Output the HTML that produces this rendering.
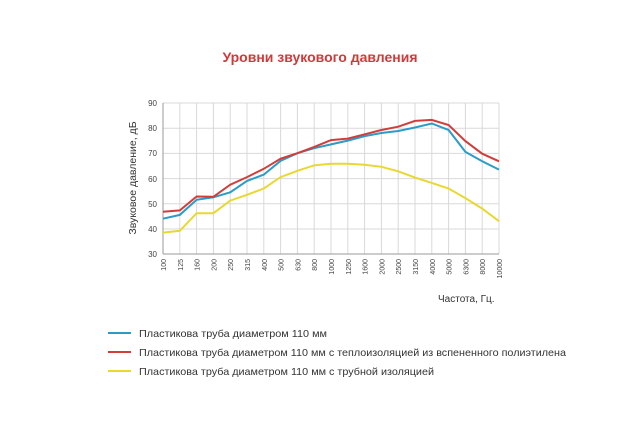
<!DOCTYPE html><html><head><meta charset="utf-8"><style>body{margin:0;background:#fff}svg{display:block}</style></head><body>
<svg width="640" height="427" xmlns="http://www.w3.org/2000/svg" font-family="Liberation Sans, sans-serif">
<text x="320" y="62" text-anchor="middle" font-size="14" font-weight="bold" fill="#d0393a">Уровни звукового давления</text>
<g stroke="#d9d9d9" stroke-width="1">
<line x1="163" y1="103" x2="499" y2="103"/><line x1="163" y1="128.2" x2="499" y2="128.2"/><line x1="163" y1="153.4" x2="499" y2="153.4"/><line x1="163" y1="178.6" x2="499" y2="178.6"/><line x1="163" y1="203.8" x2="499" y2="203.8"/><line x1="163" y1="229" x2="499" y2="229"/>
<line x1="179.8" y1="103" x2="179.8" y2="254"/><line x1="196.6" y1="103" x2="196.6" y2="254"/><line x1="213.4" y1="103" x2="213.4" y2="254"/><line x1="230.2" y1="103" x2="230.2" y2="254"/><line x1="247" y1="103" x2="247" y2="254"/><line x1="263.8" y1="103" x2="263.8" y2="254"/><line x1="280.6" y1="103" x2="280.6" y2="254"/><line x1="297.4" y1="103" x2="297.4" y2="254"/><line x1="314.2" y1="103" x2="314.2" y2="254"/><line x1="331" y1="103" x2="331" y2="254"/><line x1="347.8" y1="103" x2="347.8" y2="254"/><line x1="364.6" y1="103" x2="364.6" y2="254"/><line x1="381.4" y1="103" x2="381.4" y2="254"/><line x1="398.2" y1="103" x2="398.2" y2="254"/><line x1="415" y1="103" x2="415" y2="254"/><line x1="431.8" y1="103" x2="431.8" y2="254"/><line x1="448.6" y1="103" x2="448.6" y2="254"/><line x1="465.4" y1="103" x2="465.4" y2="254"/><line x1="482.2" y1="103" x2="482.2" y2="254"/><line x1="499" y1="103" x2="499" y2="254"/>
</g>
<line x1="163" y1="103" x2="163" y2="254" stroke="#999"/><line x1="163" y1="254" x2="499" y2="254" stroke="#999"/>
<g font-size="8" fill="#444" text-anchor="end">
<text x="157" y="106">90</text><text x="157" y="131">80</text><text x="157" y="156">70</text><text x="157" y="182">60</text><text x="157" y="207">50</text><text x="157" y="232">40</text><text x="157" y="257">30</text>
</g>
<g font-size="7" fill="#444" text-anchor="end">
<text transform="translate(166,259) rotate(-90)">100</text><text transform="translate(182.8,259) rotate(-90)">125</text><text transform="translate(199.6,259) rotate(-90)">160</text><text transform="translate(216.4,259) rotate(-90)">200</text><text transform="translate(233.2,259) rotate(-90)">250</text><text transform="translate(250,259) rotate(-90)">315</text><text transform="translate(266.8,259) rotate(-90)">400</text><text transform="translate(283.6,259) rotate(-90)">500</text><text transform="translate(300.4,259) rotate(-90)">630</text><text transform="translate(317.2,259) rotate(-90)">800</text><text transform="translate(334,259) rotate(-90)">1000</text><text transform="translate(350.8,259) rotate(-90)">1250</text><text transform="translate(367.6,259) rotate(-90)">1600</text><text transform="translate(384.4,259) rotate(-90)">2000</text><text transform="translate(401.2,259) rotate(-90)">2500</text><text transform="translate(418,259) rotate(-90)">3150</text><text transform="translate(434.8,259) rotate(-90)">4000</text><text transform="translate(451.6,259) rotate(-90)">5000</text><text transform="translate(468.4,259) rotate(-90)">6300</text><text transform="translate(485.2,259) rotate(-90)">8000</text><text transform="translate(502,259) rotate(-90)">10000</text>
</g>
<text transform="translate(136,178) rotate(-90)" text-anchor="middle" font-size="10.5" fill="#333">Звуковое давление, дБ</text>
<text x="438" y="302" font-size="10" fill="#333">Частота, Гц.</text>
<polyline fill="none" stroke="#e8d830" stroke-width="2" points="163,232.6 179.8,230.8 196.6,213.2 213.4,213.2 230.2,200.6 247,194.8 263.8,188.5 280.6,177.1 297.4,170.8 314.2,165.3 331,163.8 347.8,163.8 364.6,164.8 381.4,166.8 398.2,171.3 415,177.6 431.8,182.9 448.6,188.5 465.4,198.1 482.2,208.6 499,221.2"/>
<polyline fill="none" stroke="#2a9cc8" stroke-width="2" points="163,218.7 179.8,214.9 196.6,199.8 213.4,197.3 230.2,192.3 247,180.9 263.8,174.6 280.6,160.8 297.4,153.2 314.2,148.2 331,144.4 347.8,140.6 364.6,136.1 381.4,133 398.2,131 415,127.5 431.8,123.5 448.6,130 465.4,151.9 482.2,161.3 499,169.6"/>
<polyline fill="none" stroke="#d23d3a" stroke-width="2" points="163,211.7 179.8,210.4 196.6,196.5 213.4,196.8 230.2,184.7 247,177.1 263.8,168.8 280.6,158.7 297.4,153.2 314.2,146.9 331,140.1 347.8,138.6 364.6,134.3 381.4,130 398.2,126.7 415,120.9 431.8,119.9 448.6,125 465.4,141.1 482.2,153.7 499,161.3"/>
<g stroke-width="2"><line x1="108" y1="333" x2="131" y2="333" stroke="#2a9cc8"/><line x1="108" y1="352" x2="131" y2="352" stroke="#d23d3a"/><line x1="108" y1="371" x2="131" y2="371" stroke="#e8d830"/></g>
<g font-size="10.5" fill="#333">
<text x="139" y="337" textLength="188" lengthAdjust="spacingAndGlyphs">Пластикова труба диаметром 110 мм</text>
<text x="139" y="356" textLength="427" lengthAdjust="spacingAndGlyphs">Пластикова труба диаметром 110 мм с теплоизоляцией из вспененного полиэтилена</text>
<text x="139" y="375" textLength="295" lengthAdjust="spacingAndGlyphs">Пластикова труба диаметром 110 мм с трубной изоляцией</text>
</g>
</svg></body></html>
